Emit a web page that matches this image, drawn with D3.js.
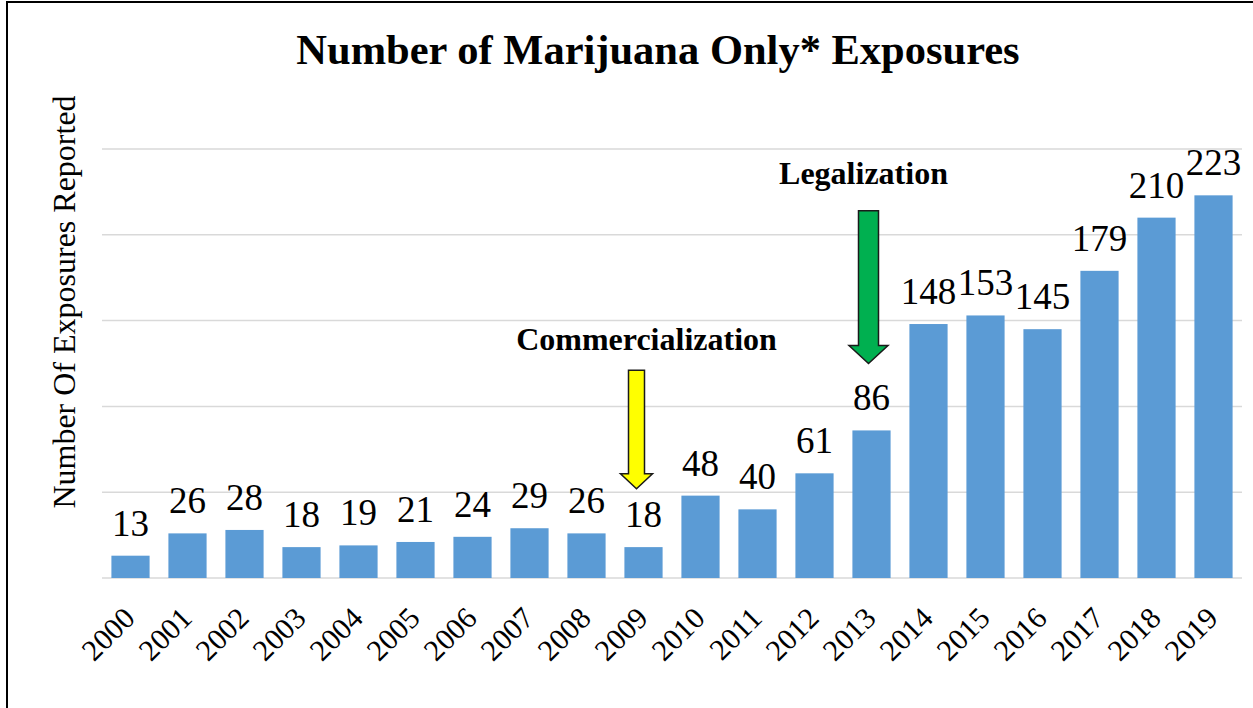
<!DOCTYPE html>
<html>
<head>
<meta charset="utf-8">
<script src="https://cdn.jsdelivr.net/npm/d3@7"></script>
<style>
  html, body { margin: 0; padding: 0; background: #fff; }
  svg { display: block; }
  text { font-family: "Liberation Serif", "Times New Roman", serif; }
</style>
</head>
<body>
<svg id="chart" width="1253" height="708"></svg>
<script>
// Yearly counts of marijuana-only exposures
const years = ["2000","2001","2002","2003","2004","2005","2006","2007","2008","2009",
               "2010","2011","2012","2013","2014","2015","2016","2017","2018","2019"];
const exposures = [13, 26, 28, 18, 19, 21, 24, 29, 26, 18,
                   48, 40, 61, 86, 148, 153, 145, 179, 210, 223];
const gridTicks = [0, 50, 100, 150, 200, 250];

// Policy milestones marked with arrows (arrow top / tip / label baseline in data units)
const milestones = [
  { label: "Commercialization", year: "2009", top: 121, tip: 52, labelAt: 133,
    fill: "#FFFF00", shift: -7, labelShift: 10, shaftW: 16, headW: 32, headH: 15 },
  { label: "Legalization", year: "2013", top: 214, tip: 125, labelAt: 229.5,
    fill: "#00B050", shift: -3, labelShift: -5, shaftW: 20, headW: 39, headH: 18 }
];

const svg = d3.select("#chart");
const W = 1253, H = 708;
const margin = { left: 102, right: 11, top: 149, bottom: 130 };
const plotW = W - margin.left - margin.right;
const plotH = H - margin.top - margin.bottom;

// Frame lines along the top and left edges
svg.append("line").attr("x1", 7).attr("x2", W).attr("y1", 2).attr("y2", 2)
  .attr("stroke", "#000").attr("stroke-width", 2);
svg.append("line").attr("x1", 7).attr("x2", 7).attr("y1", 1).attr("y2", H)
  .attr("stroke", "#000").attr("stroke-width", 2);

const g = svg.append("g").attr("transform", `translate(${margin.left},${margin.top})`);

const x = d3.scaleBand().domain(years).range([0, plotW]).paddingInner(0.33).paddingOuter(0.165);
const y = d3.scaleLinear().domain([0, 250]).range([plotH, 0]);

// Horizontal gridlines
g.selectAll("line.grid").data(gridTicks).join("line")
  .attr("class", "grid")
  .attr("x1", 0).attr("x2", plotW)
  .attr("y1", d => y(d)).attr("y2", d => y(d))
  .attr("stroke", "#d9d9d9").attr("stroke-width", 1.5);

// Bars
g.selectAll("rect.bar").data(years).join("rect")
  .attr("class", "bar")
  .attr("x", d => x(d))
  .attr("width", x.bandwidth())
  .attr("y", (d, i) => y(exposures[i]))
  .attr("height", (d, i) => plotH - y(exposures[i]))
  .attr("fill", "#5B9BD5");

// Value labels above the bars
g.selectAll("text.val").data(years).join("text")
  .attr("class", "val")
  .attr("x", d => x(d) + x.bandwidth() / 2)
  .attr("y", (d, i) => y(exposures[i]) - 20)
  .attr("text-anchor", "middle")
  .attr("font-size", 37)
  .attr("fill", "#000")
  .text((d, i) => exposures[i]);

// Rotated year labels
const xAxis = d3.axisBottom(x).tickSize(0).tickPadding(0);
const ax = g.append("g").attr("transform", `translate(0,${plotH})`).call(xAxis);
ax.select(".domain").remove();
ax.selectAll("text")
  .attr("font-family", "Liberation Serif, Times New Roman, serif")
  .attr("font-size", 30)
  .attr("fill", "#000")
  .attr("text-anchor", "end")
  .attr("dy", null)
  .attr("transform", "translate(6,42) rotate(-45)");

// Milestone arrows
milestones.forEach(m => {
  const cx = x(m.year) + x.bandwidth() / 2 + m.shift;
  const yTop = y(m.top), yTip = y(m.tip);
  const yHead = yTip - m.headH;
  const pts = [
    [cx - m.shaftW / 2, yTop], [cx + m.shaftW / 2, yTop], [cx + m.shaftW / 2, yHead],
    [cx + m.headW / 2, yHead], [cx, yTip], [cx - m.headW / 2, yHead], [cx - m.shaftW / 2, yHead]
  ];
  g.append("path")
    .attr("d", d3.line()(pts) + "Z")
    .attr("fill", m.fill)
    .attr("stroke", "#1a1a1a").attr("stroke-width", 1.5);
  g.append("text")
    .attr("x", cx + m.labelShift)
    .attr("y", y(m.labelAt))
    .attr("text-anchor", "middle")
    .attr("font-size", 32)
    .attr("font-weight", "bold")
    .text(m.label);
});

// Title
svg.append("text")
  .attr("x", 658).attr("y", 64)
  .attr("text-anchor", "middle")
  .attr("font-size", 42.5)
  .attr("font-weight", "bold")
  .text("Number of Marijuana Only* Exposures");

// Y-axis title
svg.append("text")
  .attr("transform", "translate(75,302) rotate(-90)")
  .attr("text-anchor", "middle")
  .attr("font-size", 32)
  .text("Number Of Exposures Reported");
</script>
</body>
</html>
